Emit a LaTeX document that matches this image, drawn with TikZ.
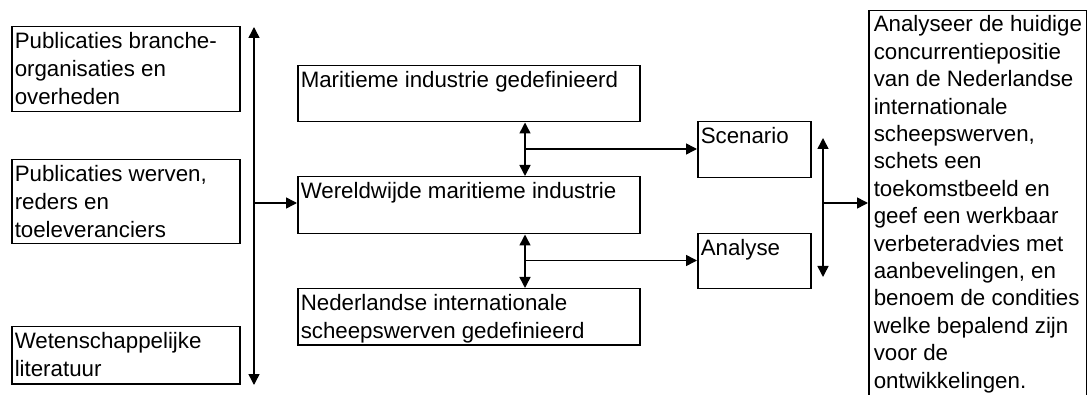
\documentclass[tikz,border=0pt]{standalone}
\usepackage{fontspec}
\setmainfont{Liberation Sans}
\usetikzlibrary{arrows.meta}
\newcommand{\boxtxt}[4]{\parbox[c][#2][t]{#1}{\fontsize{22.3}{28}\selectfont\vspace*{#4}\raggedright\leftskip=3pt\relax #3\par}}
\tikzset{
  bx/.style={draw, line width=1.5pt, inner sep=0pt, anchor=north west},
  con/.style={line width=1.5pt, -{Triangle[length=11pt,width=11pt]}},
  dcon/.style={line width=1.5pt, {Triangle[length=11pt,width=11pt]}-{Triangle[length=11pt,width=11pt]}}
}
\begin{document}
\begin{tikzpicture}[x=1pt,y=-1pt]
\useasboundingbox[fill=white] (0,0) rectangle (1087,395);
% left column
\node[bx] (L1) at (11,26) {\boxtxt{228pt}{85pt}{Publicaties branche-\\organisaties en\\overheden}{6pt}};
\node[bx] (L2) at (11,159) {\boxtxt{228pt}{84pt}{Publicaties werven,\\reders en\\toeleveranciers}{6pt}};
\node[bx] (L3) at (11,326) {\boxtxt{228pt}{57pt}{Wetenschappelijke\\literatuur}{6pt}};
% middle column
\node[bx] (M1) at (297,65) {\boxtxt{342pt}{56pt}{Maritieme industrie gedefinieerd}{6pt}};
\node[bx] (M2) at (297,176) {\boxtxt{342pt}{57pt}{Wereldwijde maritieme industrie}{6pt}};
\node[bx] (M3) at (297,288) {\boxtxt{342pt}{56pt}{Nederlandse internationale\\scheepswerven gedefinieerd}{6pt}};
% small boxes
\node[bx] (S) at (697,121) {\boxtxt{113pt}{56pt}{Scenario}{6pt}};
\node[bx] (A) at (697,233) {\boxtxt{113pt}{55pt}{Analyse}{6pt}};
% right box
\node[bx] (R) at (868,10) {\parbox[c][392pt][t]{218pt}{\fontsize{22.3}{27.4}\selectfont\vspace*{5pt}\raggedright\leftskip=5pt\relax
Analyseer de huidige\\concurrentiepositie\\van de Nederlandse\\internationale\\scheepswerven,\\schets een\\toekomstbeeld en\\geef een werkbaar\\verbeteradvies met\\aanbevelingen, en\\benoem de condities\\welke bepalend zijn\\voor de\\ontwikkelingen.\par}};
% connectors
\coordinate (lt) at (254,27);
\coordinate (lb) at (254,385);
\coordinate (lm) at (254,203);
\draw[dcon] (lt) -- (lb);
\draw[con] (lm) -- (M2.west |- lm);
\coordinate (j1) at (525,149);
\coordinate (j2) at (525,260.5);
\draw[dcon] (M1.south -| j1) -- (M2.north -| j1);
\draw[con] (j1) -- (S.west |- j1);
\draw[dcon] (M2.south -| j2) -- (M3.north -| j2);
\draw[con] (j2) -- (A.west |- j2);
\coordinate (r1) at (823,138);
\coordinate (r2) at (823,277);
\coordinate (rm) at (823,203);
\draw[dcon] (r1) -- (r2);
\draw[con] (rm) -- (R.west |- rm);
\end{tikzpicture}
\end{document}
